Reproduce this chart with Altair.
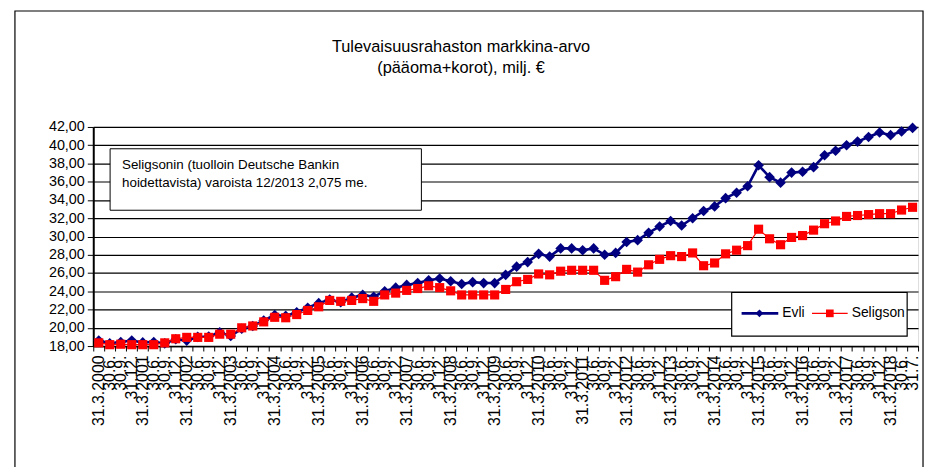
import json
import altair as alt
import pandas as pd

labels = [
    "31.3.2000", "30.6.", "30.9.", "31.12.",
    "31.3.2001", "30.6.", "30.9.", "31.12.",
    "31.3.2002", "30.6.", "30.9.", "31.12.",
    "31.3.2003", "30.6.", "30.9.", "31.12.",
    "31.3.2004", "30.6.", "30.9.", "31.12.",
    "31.3.2005", "30.6.", "30.9.", "31.12.",
    "31.3.2006", "30.6.", "30.9.", "31.12.",
    "31.3.2007", "30.6.", "30.9.", "31.12.",
    "31.3.2008", "30.6.", "30.9.", "31.12.",
    "31.3.2009", "30.6.", "30.9.", "31.12.",
    "31.3.2010", "30.6.", "30.9.", "31.12.",
    "31.3.2011", "30.6.", "30.9.", "31.12.",
    "31.3.2012", "30.6.", "30.9.", "31.12.",
    "31.3.2013", "30.6.", "30.9.", "31.12.",
    "31.3.2014", "30.6.", "30.9.", "31.12.",
    "31.3.2015", "30.6.", "30.9.", "31.12.",
    "31.3.2016", "30.6.", "30.9.", "31.12.",
    "31.3.2017", "30.6.", "30.9.", "31.12.",
    "31.3.2018", "30.6.", "31.7.",
]

evli = [
    18.6, 18.3, 18.45, 18.6, 18.4, 18.45, 18.3, 18.75, 18.6, 19.0,
    19.05, 19.5, 19.1, 19.9, 20.2, 20.8, 21.4, 21.3, 21.7, 22.2,
    22.7, 23.1, 22.8, 23.3, 23.6, 23.4, 24.0, 24.4, 24.7, 24.9,
    25.2, 25.4, 25.1, 24.8, 25.0, 24.9, 24.9, 25.8, 26.7, 27.2,
    28.1, 27.8, 28.7, 28.7, 28.5, 28.7, 28.0, 28.2, 29.4, 29.6,
    30.4, 31.1, 31.7, 31.2, 32.0, 32.8, 33.3, 34.2, 34.8, 35.5,
    37.8, 36.5, 35.9, 37.0, 37.1, 37.6, 38.9, 39.4, 40.0, 40.4,
    40.9, 41.4, 41.1, 41.5, 41.9,
]

seligson = [
    18.35, 18.15, 18.2, 18.15, 18.15, 18.15, 18.35, 18.8, 18.95, 18.95,
    18.95, 19.3, 19.3, 20.0, 20.2, 20.65, 21.15, 21.1, 21.45, 21.9,
    22.3, 23.0, 22.9, 23.0, 23.2, 22.9, 23.6, 23.8, 24.1, 24.3,
    24.6, 24.4, 24.05, 23.6, 23.6, 23.6, 23.6, 24.2, 25.05, 25.3,
    25.9, 25.8, 26.2, 26.3, 26.3, 26.3, 25.2, 25.6, 26.4, 26.1,
    26.9, 27.5, 27.9, 27.8, 28.2, 26.8, 27.1, 28.1, 28.5, 29.0,
    30.8, 29.75, 29.1, 29.9, 30.1, 30.7, 31.4, 31.7, 32.2, 32.3,
    32.4, 32.5, 32.5, 32.9, 33.2,
]

series_names = ["Evli", "Seligson"]
series_colors = ["#000080", "#FF0000"]
y_ticks = [18, 20, 22, 24, 26, 28, 30, 32, 34, 36, 38, 40, 42]

title_lines = ["Tulevaisuusrahaston markkina-arvo", "(pääoma+korot), milj. €"]
note_lines = ["Seligsonin (tuolloin Deutsche Bankin", "hoidettavista) varoista 12/2013 2,075 me."]

FONT = "Liberation Sans"

n = len(labels)
assert len(evli) == n and len(seligson) == n

df_e = pd.DataFrame({"idx": list(range(n)), "value": evli})
df_s = pd.DataFrame({"idx": list(range(n)), "value": seligson})
one = pd.DataFrame({"a": [0]})

label_expr = json.dumps(labels) + "[datum.value]"

x_enc = alt.X(
    "idx:O",
    bandPosition=0.5,
    scale=alt.Scale(type="band", paddingInner=0, paddingOuter=0),
    axis=alt.Axis(
        title=None,
        labelExpr=label_expr,
        labelAngle=270,
        labelAlign="right",
        labelBaseline="middle",
        labelFont=FONT,
        labelFontSize=16,
        labelColor="#000",
        labelPadding=4,
        labelOverlap=False,
        labelBound=False,
        tickBand="extent",
        ticks=True,
        tickSize=5,
        tickColor="#000",
        domainColor="#000",
        domainWidth=1.5,
        grid=False,
    ),
)

y_enc = alt.Y(
    "value:Q",
    scale=alt.Scale(domain=[18, 42], nice=False, zero=False),
    axis=alt.Axis(
        title=None,
        values=y_ticks,
        labelExpr="replace(format(datum.value, '.2f'), '.', ',')",
        labelFont=FONT,
        labelFontSize=14.5,
        labelColor="#000",
        labelPadding=3,
        tickSize=6,
        tickColor="#000",
        domainColor="#000",
        domainWidth=2,
        grid=True,
        gridColor="#000",
        gridWidth=1.2,
    ),
)

evli_line = alt.Chart(df_e).mark_line(color=series_colors[0], strokeWidth=2.6).encode(x=x_enc, y=y_enc)
evli_pts = alt.Chart(df_e).mark_point(
    shape="diamond", filled=True, color=series_colors[0], size=115, opacity=1
).encode(x=x_enc, y=y_enc)
sel_line = alt.Chart(df_s).mark_line(color=series_colors[1], strokeWidth=1.2).encode(x=x_enc, y=y_enc)
sel_pts = alt.Chart(df_s).mark_point(
    shape="square", filled=True, color=series_colors[1], size=85, opacity=1
).encode(x=x_enc, y=y_enc)

frame = alt.Chart(one).mark_rect(fill=None, stroke="#000", strokeWidth=1.2).encode(
    x=alt.value(-79), x2=alt.value(837), y=alt.value(-117), y2=alt.value(420)
)

title1 = alt.Chart(one).mark_text(font=FONT, fontSize=16.5, color="#000", align="center", baseline="middle").encode(
    x=alt.value(371), y=alt.value(-81), text=alt.value(title_lines[0])
)
title2 = alt.Chart(one).mark_text(font=FONT, fontSize=16.5, color="#000", align="center", baseline="middle").encode(
    x=alt.value(371), y=alt.value(-59), text=alt.value(title_lines[1])
)

note_box = alt.Chart(one).mark_rect(fill="#fff", stroke="#000", strokeWidth=1).encode(
    x=alt.value(17), x2=alt.value(331), y=alt.value(22), y2=alt.value(84)
)
note1 = alt.Chart(one).mark_text(font=FONT, fontSize=13.5, color="#000", align="left", baseline="middle").encode(
    x=alt.value(29), y=alt.value(38), text=alt.value(note_lines[0])
)
note2 = alt.Chart(one).mark_text(font=FONT, fontSize=13.5, color="#000", align="left", baseline="middle").encode(
    x=alt.value(29), y=alt.value(57), text=alt.value(note_lines[1])
)

leg_box = alt.Chart(one).mark_rect(fill="#fff", stroke="#000", strokeWidth=1.2).encode(
    x=alt.value(644), x2=alt.value(821), y=alt.value(167), y2=alt.value(211)
)
leg_l1 = alt.Chart(one).mark_rule(color=series_colors[0], strokeWidth=2.6).encode(
    x=alt.value(654), x2=alt.value(691), y=alt.value(188)
)
leg_p1 = alt.Chart(one).mark_point(shape="diamond", filled=True, color=series_colors[0], size=60, opacity=1).encode(
    x=alt.value(672), y=alt.value(188)
)
leg_t1 = alt.Chart(one).mark_text(font=FONT, fontSize=14, color="#000", align="left", baseline="middle").encode(
    x=alt.value(695), y=alt.value(188), text=alt.value(series_names[0])
)
leg_l2 = alt.Chart(one).mark_rule(color=series_colors[1], strokeWidth=1.2).encode(
    x=alt.value(725), x2=alt.value(761), y=alt.value(188)
)
leg_p2 = alt.Chart(one).mark_point(shape="square", filled=True, color=series_colors[1], size=60, opacity=1).encode(
    x=alt.value(743), y=alt.value(188)
)
leg_t2 = alt.Chart(one).mark_text(font=FONT, fontSize=14, color="#000", align="left", baseline="middle").encode(
    x=alt.value(765), y=alt.value(188), text=alt.value(series_names[1])
)

chart = alt.layer(
    frame, title1, title2,
    evli_line, evli_pts, sel_line, sel_pts,
    note_box, note1, note2,
    leg_box, leg_l1, leg_p1, leg_t1, leg_l2, leg_p2, leg_t2,
).properties(
    width=832,
    height=221,
    autosize=alt.AutoSizeParams(type="none"),
    padding={"left": 86, "top": 118, "right": 7, "bottom": 120},
).configure_view(
    stroke="#000", strokeWidth=1.2
).configure(
    background="#ffffff"
)

chart.save("out.html", embed_options={"renderer": "svg", "actions": False})
